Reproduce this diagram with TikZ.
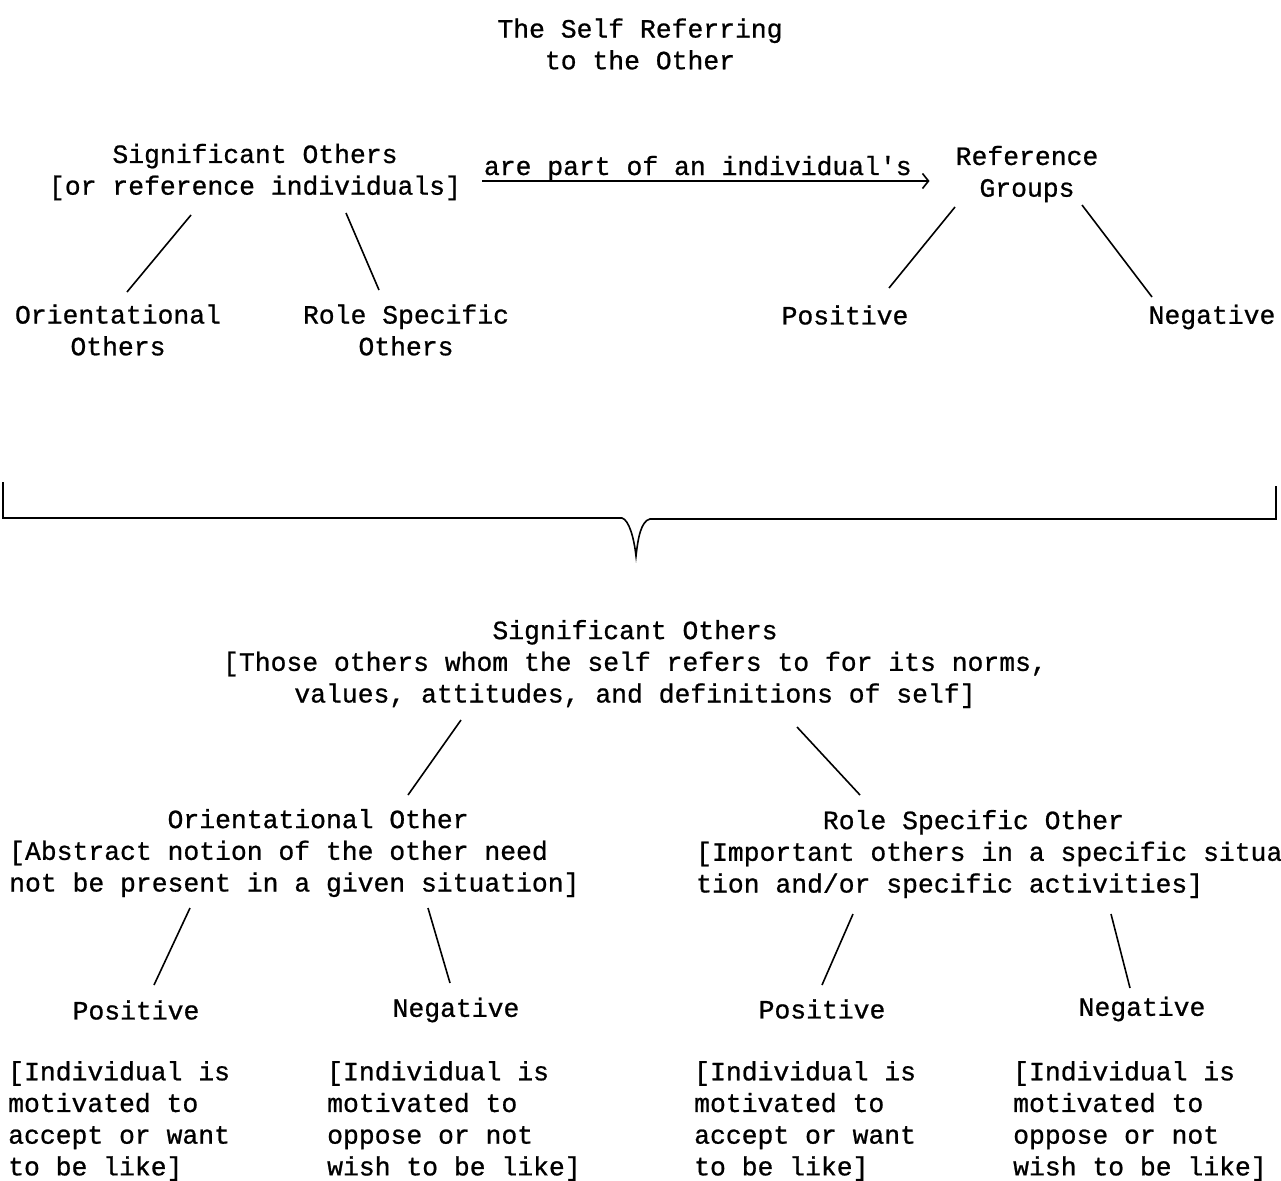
\documentclass[tikz,border=0pt]{standalone}
\usepackage{fontspec}
\setmonofont{Liberation Mono}[FakeBold=0.8]
\usetikzlibrary{arrows.meta,calc}

\begin{document}
\begin{tikzpicture}[x=1pt,y=-1pt,
    txt/.style={font=\ttfamily\fontsize{26.4}{31.7}\selectfont, inner sep=0pt, align=center},
    blk/.style={txt, align=left, anchor=west},
    link/.style={line width=1.6pt}]
  \useasboundingbox (0,0) rectangle (1281,1180);
  \clip (0,0) rectangle (1281,1180);
  % title
  \node[txt] (title) at (640,44) {The Self Referring\\to the Other};
  % upper row
  \node[txt] (sigA) at (255,172) {Significant Others\\{[}or reference individuals]};
  \node[txt] (refG) at (1027,174) {Reference\\Groups};
  \node[txt] (oriA) at (118,330) {Orientational\\Others};
  \node[txt] (roleA) at (406,330) {Role Specific\\Others};
  \node[txt] (posA) at (845,315) {Positive};
  \node[txt] (negA) at (1212,317) {Negative};
  \coordinate (arrS) at ($(sigA.east)+(21,9)$);
  \coordinate (arrM) at (arrS -| refG.west);
  \draw[line width=1.4pt, -{Straight Barb[length=6pt,width=15pt,line width=1.6pt]}] (arrS) -- node[txt, midway, anchor=base, xshift=-8pt, yshift=6pt] (arrL) {are part of an individual's} ($(arrM)+(-26,0)$);
  % brace
  \draw[link] (3,482) -- (3,518) -- (622,518) .. controls (629,520) and (634,538) .. (636,556)
    .. controls (638,538) and (641,521) .. (650,519) -- (1276,519) -- (1276,486);
  % lower tree
  \node[txt] (sigB) at (635,664) {Significant Others\\{[}Those others whom the self refers to for its norms,\\values, attitudes, and definitions of self]};
  \node[blk] (oriB) at (9,853) {\hspace*{6em}Orientational Other\\{[}Abstract notion of the other need\\not be present in a given situation]};
  \node[blk] (roleB) at (696,854) {\hspace*{4.8em}Role Specific Other\\{[}Important others in a specific situa\\tion and/or specific activities]};
  \node[txt] (posB1) at (136,1010) {Positive};
  \node[txt] (negB1) at (456,1010) {Negative};
  \node[txt] (posB2) at (822,1009) {Positive};
  \node[txt] (negB2) at (1142,1009) {Negative};
  \node[blk] (note1) at (8,1121) {[Individual is\\motivated to\\accept or want\\to be like]};
  \node[blk] (note2) at (327,1121) {[Individual is\\motivated to\\oppose or not\\wish to be like]};
  \node[blk] (note3) at (694,1121) {[Individual is\\motivated to\\accept or want\\to be like]};
  \node[blk] (note4) at (1013,1121) {[Individual is\\motivated to\\oppose or not\\wish to be like]};
  % links
  \foreach \a/\ax/\ay/\b/\bx/\by in {sigA/-64/43/oriA/9/-38, sigA/91/41/roleA/-27/-40,
      refG/-72/33/posA/44/-27, refG/55/31/negA/-60/-20,
      sigB/-174/56/oriB.west/399/-58, sigB/162/63/roleB.west/164/-59,
      oriB.west/181/55/posB1/18/-25, oriB.west/419/55/negB1/-6/-27,
      roleB.west/157/60/posB2/0/-24, roleB.west/415/60/negB2/-12/-21}
    \draw[link] ($(\a)+(\ax,\ay)$) -- ($(\b)+(\bx,\by)$);
\end{tikzpicture}
\end{document}
